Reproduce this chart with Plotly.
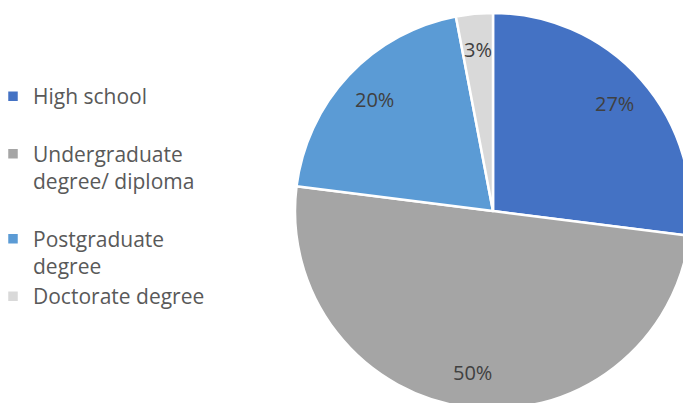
import math
import plotly.graph_objects as go

# Highest education level of respondents
categories = ["High school<br>&nbsp;", "Undergraduate<br>degree/ diploma<br>&nbsp;", "Postgraduate<br>degree", "Doctorate degree"]
shares = [27, 50, 20, 3]
colors = ["#4472C4", "#A5A5A5", "#5B9BD5", "#D9D9D9"]

SHIFT = 7                  # canvas is nudged left so the legend hugs the page edge
W, H = 710, 420            # canvas slightly larger than the viewport so the pie bleeds off the edges
cx, cy, r = 493 + SHIFT, 211, 198  # pie centre (px from left/top of the canvas) and radius
label_r = 0.82 * r         # radius at which the percentage labels sit

fig = go.Figure(
    go.Pie(
        labels=categories,
        values=shares,
        sort=False,
        direction="clockwise",
        rotation=0,
        marker=dict(colors=colors, line=dict(color="white", width=2.5)),
        textinfo="none",
        domain=dict(x=[(cx - r) / W, (cx + r) / W], y=[(H - cy - r) / H, (H - cy + r) / H]),
        hoverinfo="percent",
    )
)

# percentage labels placed on each slice's bisector, clockwise from 12 o'clock
total = sum(shares)
start = 0.0
for v in shares:
    mid = (start + v / 2) / total * 2 * math.pi
    start += v
    px = cx + label_r * math.sin(mid)
    py = cy - label_r * math.cos(mid)
    fig.add_annotation(
        x=px / W, y=1 - py / H, xref="paper", yref="paper",
        xanchor="center", yanchor="middle",
        text=f"{v}%", showarrow=False,
        font=dict(family="Open Sans", size=20, color="#404040"),
    )

fig.update_layout(
    width=W,
    height=H,
    margin=dict(l=0, r=0, t=0, b=0),
    paper_bgcolor="white",
    showlegend=True,
    legend=dict(
        x=0,
        y=1 - 76 / H,
        xanchor="left",
        yanchor="top",
        valign="top",
        font=dict(family="Open Sans", size=21, color="#595959"),
        itemwidth=30,
    ),
)

fig.write_html(
    "out.html",
    post_script=(
        "document.documentElement.style.overflow='hidden';"
        "document.body.style.overflow='hidden';"
        "document.body.style.margin='0';"
        f"document.querySelector('.plotly-graph-div').style.marginLeft='-{SHIFT}px';"
    ),
)
